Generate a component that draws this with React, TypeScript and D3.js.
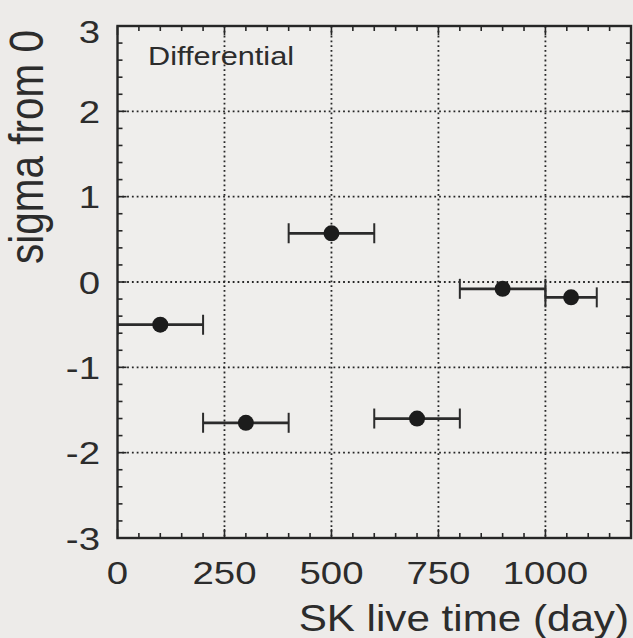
import React from "react";
import * as d3 from "d3";

const xCenter = [100, 300, 500, 700, 900, 1060];
const xLow = [0, 200, 400, 600, 800, 1000];
const xHigh = [200, 400, 600, 800, 1000, 1120];
const sigma = [-0.5, -1.65, 0.57, -1.6, -0.08, -0.18];

const xMajorTicks = [0, 250, 500, 750, 1000];
const yMajorTicks = [-3, -2, -1, 0, 1, 2, 3];
const xLabel = "SK live time (day)";
const yLabel = "sigma from 0";
const panelLabel = "Differential";

const W = 633;
const H = 638;
const L = 117.5, R = 631, T = 26, B = 538;
const FONT = "'Liberation Sans', Arial, Helvetica, sans-serif";
const INK = "#262626";
const TXT = "#2c2c2c";
const SX = 1.2;

export default function App() {
  const x = d3.scaleLinear().domain([0, 1200]).range([L, R]);
  const y = d3.scaleLinear().domain([-3, 3]).range([B, T]);
  const xMinor = d3.range(0, 1201, 50);
  const yMinor = d3.range(-3, 3.0001, 0.2);

  return (
    <svg width={W} height={H} style={{ position: "absolute", left: 0, top: 0, background: "#edebe9" }}>
      <rect x={0} y={0} width={W} height={H} fill="#edebe9" />
      <rect x={L} y={T} width={R - L} height={B - T} fill="#efeeec" />
      <defs>
        <clipPath id="plot">
          <rect x={L} y={T} width={R - L} height={B - T} />
        </clipPath>
      </defs>
      {/* grid */}
      {xMajorTicks.filter((v) => v > 0).map((v) => (
        <line key={"gx" + v} x1={x(v)} x2={x(v)} y1={T} y2={B} stroke={INK} strokeWidth={1.8} strokeDasharray="1.8,3" />
      ))}
      {yMajorTicks.filter((v) => v > -3 && v < 3).map((v) => (
        <line key={"gy" + v} x1={L} x2={R} y1={y(v)} y2={y(v)} stroke={INK} strokeWidth={1.8} strokeDasharray="1.8,3" />
      ))}
      {/* minor / major ticks */}
      {xMinor.map((v) => {
        const len = v % 250 === 0 ? 9 : 5;
        return (
          <g key={"tx" + v}>
            <line x1={x(v)} x2={x(v)} y1={B} y2={B - len} stroke={INK} strokeWidth={1.6} />
            <line x1={x(v)} x2={x(v)} y1={T} y2={T + len} stroke={INK} strokeWidth={1.6} />
          </g>
        );
      })}
      {yMinor.map((v, i) => {
        const len = i % 5 === 0 ? 9 : 5;
        return (
          <g key={"ty" + i}>
            <line x1={L} x2={L + len} y1={y(v)} y2={y(v)} stroke={INK} strokeWidth={1.6} />
            <line x1={R} x2={R - len} y1={y(v)} y2={y(v)} stroke={INK} strokeWidth={1.6} />
          </g>
        );
      })}
      {/* data */}
      <g clipPath="url(#plot)">
        {sigma.map((s, i) => (
          <g key={"p" + i}>
            <line x1={x(xLow[i])} x2={x(xHigh[i])} y1={y(s)} y2={y(s)} stroke="#2b2b2b" strokeWidth={2.8} />
            <line x1={x(xLow[i])} x2={x(xLow[i])} y1={y(s) - 10} y2={y(s) + 10} stroke="#2b2b2b" strokeWidth={2} />
            <line x1={x(xHigh[i])} x2={x(xHigh[i])} y1={y(s) - 10} y2={y(s) + 10} stroke="#2b2b2b" strokeWidth={2} />
            <circle cx={x(xCenter[i])} cy={y(s)} r={8} fill="#1c1c1c" />
          </g>
        ))}
      </g>
      {/* frame */}
      <rect x={L} y={T} width={R - L} height={B - T} fill="none" stroke={INK} strokeWidth={2.4} />
      {/* x tick labels */}
      {xMajorTicks.map((v) => (
        <g key={"lx" + v} transform={`translate(${x(v)},584) scale(${SX},1)`}>
          <text textAnchor="middle" fontFamily={FONT} fontSize={32} fill={TXT}>{v}</text>
        </g>
      ))}
      {/* y tick labels */}
      {yMajorTicks.map((v) => {
        const cy = Math.min(Math.max(y(v), 31), 542);
        return (
          <g key={"ly" + v} transform={`translate(100,${cy + 11.5}) scale(${SX},1)`}>
            <text textAnchor="end" fontFamily={FONT} fontSize={32} fill={TXT}>{v}</text>
          </g>
        );
      })}
      {/* panel label */}
      <g transform={`translate(148,65) scale(1.18,1)`}>
        <text fontFamily={FONT} fontSize={26} fill={TXT}>{panelLabel}</text>
      </g>
      {/* axis titles */}
      <g transform={`translate(629,631) scale(1.14,1)`}>
        <text textAnchor="end" fontFamily={FONT} fontSize={37} fill={TXT}>{xLabel}</text>
      </g>
      <g transform={`translate(43,147) scale(${SX},1) rotate(-90)`}>
        <text textAnchor="middle" fontFamily={FONT} fontSize={40.5} fill={TXT}>{yLabel}</text>
      </g>
    </svg>
  );
}
